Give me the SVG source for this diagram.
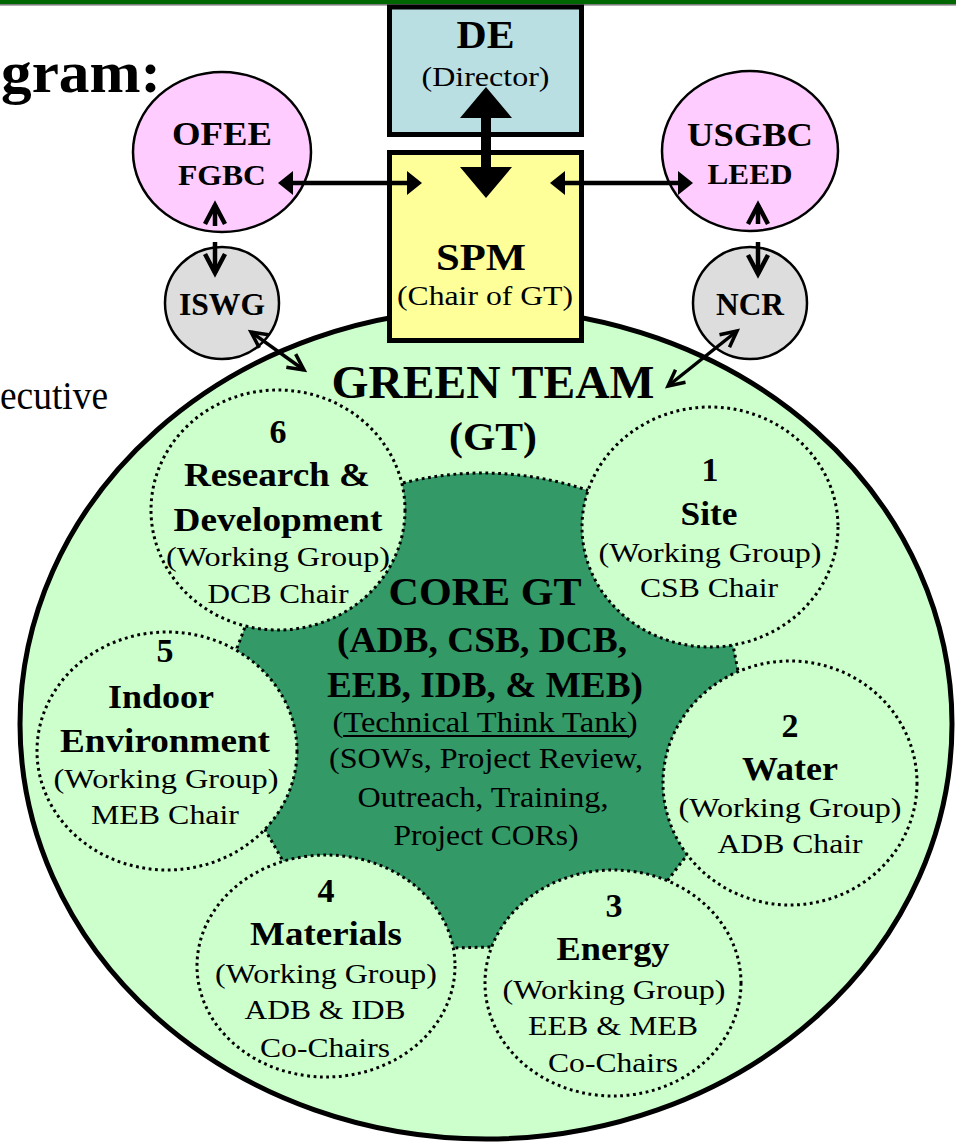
<svg xmlns="http://www.w3.org/2000/svg" width="956" height="1142" viewBox="0 0 956 1142" font-family="'Liberation Serif', 'Times New Roman', Times, serif">
  <style>
    text { font-family: "Liberation Serif", "Times New Roman", Times, serif; text-anchor: middle; fill: #000; }
    .b { font-weight: bold; }
    .r { font-weight: normal; }
    .wg { fill: #CCFFCC; stroke: #000; stroke-width: 3; stroke-dasharray: 2.8 3.6; }
    .core { fill: #339966; stroke: #000; stroke-width: 3; stroke-dasharray: 2.8 3.6; }
    .box { stroke: #000; stroke-width: 5; }
    .org { stroke: #000; stroke-width: 2.5; }
    .link { stroke: #000; fill: none; }
  </style>
  <defs>
    <!-- solid triangular head, base at the line end -->
    <marker id="tri" viewBox="0 0 15 24" refX="0" refY="12" markerWidth="15" markerHeight="24" markerUnits="userSpaceOnUse" orient="auto-start-reverse">
      <path d="M0,0 L15,12 L0,24 Z" fill="#000"/>
    </marker>
    <!-- heavy open chevron head -->
    <marker id="chev" viewBox="-3 -3 30 26" refX="19" refY="10" markerWidth="30" markerHeight="26" markerUnits="userSpaceOnUse" orient="auto-start-reverse">
      <path d="M0,0 L19,10 L0,20" fill="none" stroke="#000" stroke-width="4.5"/>
    </marker>
    <!-- light open chevron head -->
    <marker id="chevS" viewBox="-3 -3 26 22" refX="16" refY="8" markerWidth="26" markerHeight="22" markerUnits="userSpaceOnUse" orient="auto-start-reverse">
      <path d="M0,0 L16,8 L0,16" fill="none" stroke="#000" stroke-width="3.5"/>
    </marker>
  </defs>

  <rect x="0" y="0" width="956" height="1142" fill="#FFFFFF"/>

  <!-- slide header band -->
  <rect x="0" y="0" width="956" height="4" fill="#006600"/>
  <rect x="0" y="4" width="956" height="1.6" fill="#7F7F7F"/>
  <text class="b" x="81" y="92" font-size="60" textLength="160" lengthAdjust="spacingAndGlyphs">gram:</text>
  <text class="r" x="54" y="409" font-size="40" textLength="108" lengthAdjust="spacingAndGlyphs">ecutive</text>

  <!-- Green Team -->
  <g id="green-team">
    <ellipse cx="486" cy="724" rx="466" ry="415" fill="#CCFFCC" stroke="#000" stroke-width="5"/>
    <text class="b" x="493" y="398" font-size="46" textLength="323" lengthAdjust="spacingAndGlyphs">GREEN TEAM</text>
    <text class="b" x="493" y="450" font-size="41" textLength="88" lengthAdjust="spacingAndGlyphs">(GT)</text>
  </g>

  <!-- Core GT -->
  <g id="core-gt">
    <path class="core" d="M403,483 Q495,460 587,490 L733,645 L738,671 L687,855 L668,880 L492,947 L453,948 L283,861 L264,828 L237,648 L245,627 Z"/>
  </g>

  <!-- Working groups -->
  <g id="wg-1">
    <ellipse class="wg" cx="710" cy="527" rx="128" ry="120"/>
    <text class="b" x="710" y="481" font-size="34">1</text>
    <text class="b" x="709" y="525" font-size="34" textLength="57" lengthAdjust="spacingAndGlyphs">Site</text>
    <text class="r" x="710" y="562" font-size="28" textLength="223" lengthAdjust="spacingAndGlyphs">(Working Group)</text>
    <text class="r" x="709" y="597" font-size="28" textLength="138" lengthAdjust="spacingAndGlyphs">CSB Chair</text>
  </g>
  <g id="wg-2">
    <ellipse class="wg" cx="790" cy="783" rx="127" ry="122"/>
    <text class="b" x="790" y="737" font-size="34">2</text>
    <text class="b" x="790" y="780" font-size="34" textLength="96" lengthAdjust="spacingAndGlyphs">Water</text>
    <text class="r" x="790" y="817" font-size="28" textLength="223" lengthAdjust="spacingAndGlyphs">(Working Group)</text>
    <text class="r" x="790" y="853" font-size="28" textLength="145" lengthAdjust="spacingAndGlyphs">ADB Chair</text>
  </g>
  <g id="wg-3">
    <ellipse class="wg" cx="613" cy="983" rx="128" ry="113"/>
    <text class="b" x="614" y="917" font-size="34">3</text>
    <text class="b" x="613" y="960" font-size="34" textLength="113" lengthAdjust="spacingAndGlyphs">Energy</text>
    <text class="r" x="614" y="999" font-size="28" textLength="223" lengthAdjust="spacingAndGlyphs">(Working Group)</text>
    <text class="r" x="613" y="1035" font-size="28" textLength="170" lengthAdjust="spacingAndGlyphs">EEB &amp; MEB</text>
    <text class="r" x="613" y="1072" font-size="28" textLength="130" lengthAdjust="spacingAndGlyphs">Co-Chairs</text>
  </g>
  <g id="wg-4">
    <ellipse class="wg" cx="326" cy="966" rx="129" ry="111"/>
    <text class="b" x="326" y="902" font-size="34">4</text>
    <text class="b" x="326" y="945" font-size="34" textLength="152" lengthAdjust="spacingAndGlyphs">Materials</text>
    <text class="r" x="326" y="983" font-size="28" textLength="222" lengthAdjust="spacingAndGlyphs">(Working Group)</text>
    <text class="r" x="325" y="1019" font-size="28" textLength="161" lengthAdjust="spacingAndGlyphs">ADB &amp; IDB</text>
    <text class="r" x="325" y="1057" font-size="28" textLength="130" lengthAdjust="spacingAndGlyphs">Co-Chairs</text>
  </g>
  <g id="wg-5">
    <ellipse class="wg" cx="167" cy="751" rx="130" ry="119"/>
    <text class="b" x="165" y="662" font-size="34">5</text>
    <text class="b" x="161" y="708" font-size="34" textLength="106" lengthAdjust="spacingAndGlyphs">Indoor</text>
    <text class="b" x="165" y="752" font-size="34" textLength="210" lengthAdjust="spacingAndGlyphs">Environment</text>
    <text class="r" x="166" y="788" font-size="28" textLength="225" lengthAdjust="spacingAndGlyphs">(Working Group)</text>
    <text class="r" x="165" y="824" font-size="28" textLength="148" lengthAdjust="spacingAndGlyphs">MEB Chair</text>
  </g>
  <g id="wg-6">
    <ellipse class="wg" cx="278" cy="510" rx="127" ry="120"/>
    <text class="b" x="278" y="443" font-size="34">6</text>
    <text class="b" x="277" y="486" font-size="34" textLength="186" lengthAdjust="spacingAndGlyphs">Research &amp;</text>
    <text class="b" x="278" y="531" font-size="34" textLength="209" lengthAdjust="spacingAndGlyphs">Development</text>
    <text class="r" x="278" y="566" font-size="28" textLength="224" lengthAdjust="spacingAndGlyphs">(Working Group)</text>
    <text class="r" x="278" y="603" font-size="28" textLength="141" lengthAdjust="spacingAndGlyphs">DCB Chair</text>
  </g>

  <!-- Core GT labels -->
  <g id="core-gt-labels">
    <text class="b" x="485" y="605" font-size="41" textLength="193" lengthAdjust="spacingAndGlyphs">CORE GT</text>
    <text class="b" x="482" y="652" font-size="35" textLength="290" lengthAdjust="spacingAndGlyphs">(ADB, CSB, DCB,</text>
    <text class="b" x="485" y="697" font-size="35" textLength="316" lengthAdjust="spacingAndGlyphs">EEB, IDB, &amp; MEB)</text>
    <text class="r" x="485" y="732" font-size="29" textLength="305" lengthAdjust="spacingAndGlyphs">(Technical Think Tank)</text>
    <line x1="343" y1="736" x2="629" y2="736" stroke="#000" stroke-width="2"/>
    <text class="r" x="486" y="768" font-size="29" textLength="314" lengthAdjust="spacingAndGlyphs">(SOWs, Project Review,</text>
    <text class="r" x="483" y="807" font-size="29" textLength="251" lengthAdjust="spacingAndGlyphs">Outreach, Training,</text>
    <text class="r" x="486" y="845" font-size="29" textLength="185" lengthAdjust="spacingAndGlyphs">Project CORs)</text>
  </g>

  <!-- Director -->
  <g id="de">
    <rect class="box" x="389.5" y="7" width="192" height="127.5" fill="#B9DFE2"/>
    <text class="b" x="485.5" y="48" font-size="39" textLength="58" lengthAdjust="spacingAndGlyphs">DE</text>
    <text class="r" x="485.5" y="86" font-size="28" textLength="128" lengthAdjust="spacingAndGlyphs">(Director)</text>
  </g>

  <!-- SPM -->
  <g id="spm">
    <rect class="box" x="389.5" y="152.5" width="192" height="188" fill="#FFFF99"/>
    <text class="b" x="481" y="270" font-size="38" textLength="90" lengthAdjust="spacingAndGlyphs">SPM</text>
    <text class="r" x="485" y="305" font-size="28" textLength="176" lengthAdjust="spacingAndGlyphs">(Chair of GT)</text>
  </g>

  <!-- External organisations -->
  <g id="ofee">
    <ellipse class="org" cx="222" cy="152" rx="89" ry="80" fill="#FFCCFF"/>
    <text class="b" x="222" y="145" font-size="34" textLength="100" lengthAdjust="spacingAndGlyphs">OFEE</text>
    <text class="b" x="222" y="185" font-size="30" textLength="88" lengthAdjust="spacingAndGlyphs">FGBC</text>
  </g>
  <g id="usgbc">
    <ellipse class="org" cx="750" cy="151" rx="88" ry="80" fill="#FFCCFF"/>
    <text class="b" x="750" y="146" font-size="34" textLength="126" lengthAdjust="spacingAndGlyphs">USGBC</text>
    <text class="b" x="750" y="184" font-size="30" textLength="85" lengthAdjust="spacingAndGlyphs">LEED</text>
  </g>
  <g id="iswg">
    <ellipse class="org" cx="222" cy="303" rx="57" ry="56" fill="#DDDDDD"/>
    <text class="b" x="222" y="315" font-size="31" textLength="86" lengthAdjust="spacingAndGlyphs">ISWG</text>
  </g>
  <g id="ncr">
    <ellipse class="org" cx="750" cy="303" rx="57" ry="56" fill="#DDDDDD"/>
    <text class="b" x="750" y="315" font-size="31" textLength="68" lengthAdjust="spacingAndGlyphs">NCR</text>
  </g>

  <!-- Connectors -->
  <g id="connectors">
    <polygon points="486,87 512,118 491,118 491,167 512,167 486,198 460,167 481,167 481,118 460,118" fill="#000"/>
    <line class="link" x1="293" y1="183" x2="407" y2="183" stroke-width="4.5" marker-start="url(#tri)" marker-end="url(#tri)"/>
    <line class="link" x1="565" y1="183" x2="678" y2="183" stroke-width="4.5" marker-start="url(#tri)" marker-end="url(#tri)"/>
    <line class="link" x1="215" y1="226" x2="215" y2="205" stroke-width="4.5" marker-end="url(#chev)"/>
    <line class="link" x1="215" y1="242" x2="215" y2="273" stroke-width="4.5" marker-end="url(#chev)"/>
    <line class="link" x1="758" y1="224" x2="758" y2="205" stroke-width="4.5" marker-end="url(#chev)"/>
    <line class="link" x1="758" y1="242" x2="758" y2="274" stroke-width="4.5" marker-end="url(#chev)"/>
    <line class="link" x1="251" y1="332" x2="304" y2="370" stroke-width="3.5" marker-start="url(#chevS)" marker-end="url(#chevS)"/>
    <line class="link" x1="737" y1="331" x2="668" y2="386" stroke-width="3.5" marker-start="url(#chevS)" marker-end="url(#chevS)"/>
  </g>
</svg>
